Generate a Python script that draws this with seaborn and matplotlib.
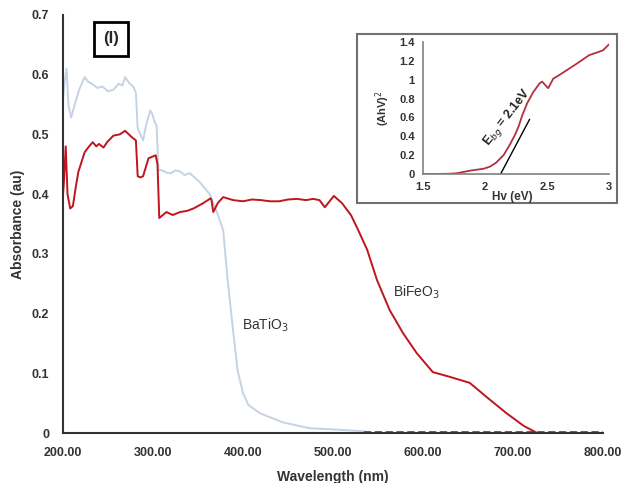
import numpy as np
import pandas as pd
import matplotlib
matplotlib.use("Agg")
import matplotlib.pyplot as plt
from matplotlib.patches import Rectangle
import seaborn as sns

# main spectra (wavelength nm, absorbance au)
bto_wl = [200, 202, 204, 206, 209, 213, 218, 224, 228, 232, 238, 244, 250, 256, 262, 266, 269,
          274, 278, 281, 283, 286, 289, 293, 297, 299, 302, 304, 306, 310, 315, 320, 325, 330,
          335, 341, 352, 363, 371, 378, 383, 389, 394, 400, 406, 419, 444, 474, 500, 535]
bto_ab = [0.56, 0.59, 0.61, 0.55, 0.528, 0.55, 0.575, 0.596, 0.588, 0.585, 0.578, 0.58, 0.572,
          0.575, 0.585, 0.582, 0.596, 0.585, 0.58, 0.57, 0.51, 0.50, 0.49, 0.52, 0.54, 0.535,
          0.52, 0.515, 0.44, 0.44, 0.436, 0.435, 0.44, 0.438, 0.432, 0.435, 0.42, 0.40, 0.37,
          0.34, 0.256, 0.172, 0.105, 0.067, 0.047, 0.033, 0.018, 0.008, 0.006, 0.003]

bfo_wl = [200, 201, 203, 205, 208, 211, 214, 217, 224, 228, 233, 237, 240, 245, 249, 256, 263,
          269, 276, 281, 283, 286, 289, 295, 303, 305, 307, 315, 322, 330, 338, 345, 356, 364,
          365, 367, 372, 378, 389, 400, 410, 420, 430, 440, 450, 460, 470, 478, 485, 491, 501,
          510, 520, 528, 538, 549, 563, 578, 593, 611, 630, 652, 671, 693, 712, 727]
bfo_ab = [0.40, 0.42, 0.48, 0.40, 0.376, 0.38, 0.41, 0.437, 0.47, 0.478, 0.487, 0.48, 0.484,
          0.478, 0.487, 0.498, 0.50, 0.506, 0.496, 0.49, 0.43, 0.428, 0.43, 0.46, 0.465, 0.45,
          0.36, 0.37, 0.365, 0.37, 0.372, 0.376, 0.385, 0.393, 0.39, 0.37, 0.385, 0.395, 0.39,
          0.388, 0.391, 0.39, 0.388, 0.388, 0.391, 0.392, 0.39, 0.392, 0.39, 0.378, 0.397,
          0.385, 0.365, 0.34, 0.307, 0.256, 0.206, 0.167, 0.134, 0.102, 0.094, 0.084, 0.06,
          0.033, 0.012, 0.0]

base_wl = [535, 600, 650, 700, 727, 760, 800]
base_ab = [0.002, 0.002, 0.002, 0.002, 0.002, 0.002, 0.002]

# inset: Tauc plot
hv = [1.51, 1.6, 1.7, 1.77, 1.88, 1.99, 2.04, 2.09, 2.15, 2.2, 2.24, 2.27, 2.3, 2.34, 2.39,
      2.44, 2.46, 2.51, 2.55, 2.6, 2.74, 2.84, 2.95, 3.0]
ahv2 = [0.0, 0.0, 0.002, 0.007, 0.035, 0.056, 0.078, 0.12, 0.2, 0.31, 0.41, 0.5, 0.62, 0.75,
        0.87, 0.96, 0.98, 0.91, 1.01, 1.05, 1.17, 1.26, 1.31, 1.375]
fit_hv = [2.11, 2.36]
fit_y = [-0.04, 0.58]

sns.set_style("white")
plt.rcParams['font.family'] = ['Liberation Sans', 'DejaVu Sans']

fig = plt.figure(figsize=(6.27, 4.83), dpi=100)
ax = fig.add_axes([0.1005, 0.1035, 0.861, 0.8655])

df_bto = pd.DataFrame({'wl': bto_wl, 'ab': bto_ab})
df_bfo = pd.DataFrame({'wl': bfo_wl, 'ab': bfo_ab})
df_base = pd.DataFrame({'wl': base_wl, 'ab': base_ab})
sns.lineplot(data=df_bto, x='wl', y='ab', ax=ax, color='#c6d3e3', lw=1.4)
sns.lineplot(data=df_base, x='wl', y='ab', ax=ax, color='#555555', lw=1.3, ls=(0, (4, 2)))
sns.lineplot(data=df_bfo, x='wl', y='ab', ax=ax, color='#c0141e', lw=1.4)

ax.set_xlim(200, 800)
ax.set_ylim(0, 0.7)
ax.set_xticks(np.arange(200, 801, 100))
ax.set_xticklabels(['%.2f' % v for v in np.arange(200, 801, 100)])
ax.set_yticks(np.arange(0, 0.71, 0.1))
ax.set_yticklabels(['0'] + ['%.1f' % v for v in np.arange(0.1, 0.71, 0.1)])
for s in ['top', 'right']:
    ax.spines[s].set_visible(False)
for s in ['left', 'bottom']:
    ax.spines[s].set_color('#333333')
    ax.spines[s].set_linewidth(1.5)
ax.tick_params(axis='both', direction='out', length=4, width=1.3, color='#333333',
               labelsize=9, labelcolor='#333333', pad=6)
for lab in ax.get_xticklabels() + ax.get_yticklabels():
    lab.set_fontweight('bold')
ax.set_xlabel('Wavelength (nm)', fontsize=10, fontweight='bold', color='#333333', labelpad=8)
ax.set_ylabel('Absorbance (au)', fontsize=10, fontweight='bold', color='#333333', labelpad=5)

ax.text(399, 0.181, 'BaTiO$_3$', fontsize=10, color='#333333', va='center')
ax.text(567, 0.236, 'BiFeO$_3$', fontsize=10, color='#333333', va='center')
ax.text(111 / 627, 1 - 39 / 483, '(I)', transform=fig.transFigure, fontsize=12,
        fontweight='bold', ha='center', va='center',
        bbox=dict(boxstyle='square,pad=0.55', fc='white', ec='black', lw=2))

# inset frame and axes
fig.patches.append(Rectangle((357 / 627, 1 - 203 / 483), 260 / 627, 169 / 483,
                             transform=fig.transFigure, fill=True, fc='white',
                             ec='#707070', lw=1.5, zorder=3))
ins = fig.add_axes([0.6746, 0.6398, 0.2967, 0.2733], zorder=4)
ins.patch.set_alpha(0)
df_tauc = pd.DataFrame({'hv': hv, 'y': ahv2})
sns.lineplot(data=df_tauc, x='hv', y='y', ax=ins, color='#b3303f', lw=1.3)
ins.plot(fit_hv, fit_y, color='black', lw=1.0)
ins.set_xlim(1.5, 3.0)
ins.set_ylim(0, 1.4)
ins.set_xticks([1.5, 2, 2.5, 3])
ins.set_xticklabels(['1.5', '2', '2.5', '3'])
ins.set_xticks(np.arange(1.5, 3.01, 0.1), minor=True)
ins.set_yticks(np.arange(0, 1.41, 0.2))
ins.set_yticklabels(['0', '0.2', '0.4', '0.6', '0.8', '1', '1.2', '1.4'])
for s in ['top', 'right']:
    ins.spines[s].set_visible(False)
for s in ['left', 'bottom']:
    ins.spines[s].set_color('#808080')
    ins.spines[s].set_linewidth(1.2)
ins.tick_params(axis='both', which='major', direction='out', length=3, width=1,
                color='#808080', labelsize=8, labelcolor='#333333', pad=3)
ins.tick_params(axis='x', which='minor', direction='out', length=2, width=1, color='#808080')
for lab in ins.get_xticklabels() + ins.get_yticklabels():
    lab.set_fontweight('bold')
ins.set_xlabel('')
ins.set_ylabel('(AhV)$^2$', fontsize=8, fontweight='bold', color='#333333', labelpad=5)
ins.text(2.22, -0.13, 'Hv (eV)', transform=ins.get_xaxis_transform(), fontsize=8.5,
         fontweight='bold', color='#333333', ha='center', va='top')
ins.text(2.18, 0.6, 'E$_{bg}$ = 2.1eV', fontsize=9, fontweight='bold', color='#222222',
         rotation=52, ha='center', va='center')

fig.savefig('out.png', dpi=100)
